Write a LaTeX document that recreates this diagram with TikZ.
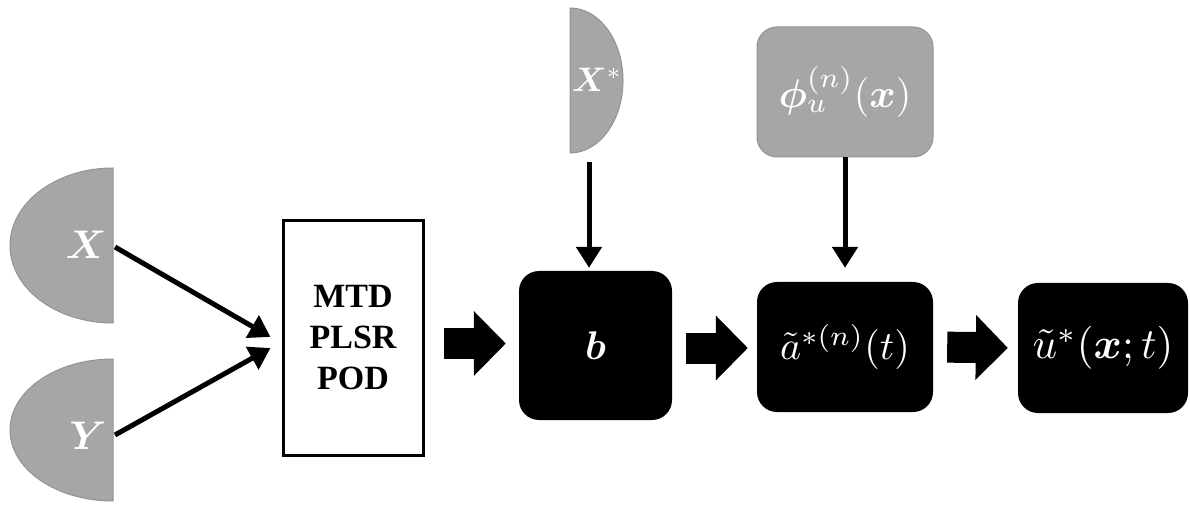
\documentclass[tikz,border=0pt]{standalone}
\usepackage{fontspec}
\setmainfont{Liberation Serif}
\usepackage{amsmath,bm,graphicx}
\usetikzlibrary{arrows.meta,calc}
\definecolor{halfgray}{HTML}{A6A6A6}
\definecolor{edgegray}{HTML}{939393}
\newcommand\scalemath[2]{\scalebox{#1}{\fontsize{10}{12}\selectfont$#2$}}
\tikzset{
  half/.style={fill=halfgray,draw=edgegray,line width=1pt},
  blackbox/.style={fill=black,text=white,rounded corners=20pt,inner sep=0pt},
  graybox/.style={fill=halfgray,draw=edgegray,line width=1pt,text=white,rounded corners=20pt,inner sep=0pt},
  halflabel/.style={text=white,inner sep=0pt},
  fatarrow/.style={line width=31pt,-{Triangle[length=32pt,width=63pt]}},
  thinarrow/.style={line width=5pt,-{Triangle[length=21pt,width=25pt]}},
}
\begin{document}
\begin{tikzpicture}[x=1pt,y=1pt]
\useasboundingbox (0,0) rectangle (1190,-510);
% half discs
\draw[half] (113,-168) arc[start angle=90,end angle=270,x radius=103,y radius=77.5] -- cycle;
\draw[half] (113,-359) arc[start angle=90,end angle=270,x radius=103,y radius=71] -- cycle;
\draw[half] (570,-8) arc[start angle=90,end angle=-90,x radius=53,y radius=72.5] -- cycle;
\node[halflabel] (X) at (86,-245) {\scalemath{4}{\bm{X}}};
\node[halflabel] (Y) at (88,-436) {\scalemath{4}{\bm{Y}}};
\node[halflabel] (Xs) at (597,-80) {\scalemath{3.4}{\bm{X}^{*}}};
\coordinate (Xout) at (115,-247);
\coordinate (Yout) at (115,-435);
\coordinate (Xsout) at (589,-162);
% boxes
\node[draw=black,line width=3pt,fill=white,minimum width=140pt,minimum height=234pt,inner sep=0pt,
      align=center,font=\bfseries\fontsize{34}{41}\selectfont] (mtd) at (353,-338) {MTD\\PLSR\\POD};
\node[blackbox,minimum width=153pt,minimum height=149pt] (b) at (595.5,-345.5) {\scalemath{4}{\bm{b}}};
\node[graybox,minimum width=176pt,minimum height=130pt] (phi) at (845,-92) {\scalemath{4.0}{\bm{\phi}_u^{(n)}(\bm{x})}};
\node[blackbox,minimum width=176pt,minimum height=130pt] (a) at (845,-347) {\scalemath{4.0}{\tilde{a}^{*(n)}(t)}};
\node[blackbox,minimum width=170pt,minimum height=130pt] (u) at (1103,-348) {\scalemath{4.3}{\tilde{u}^{*}(\bm{x};t)}};
% connectors
\draw[thinarrow] (Xout) -- ($(mtd.west)+(-11,1)$);
\draw[thinarrow] (Yout) -- ($(mtd.west)+(-11,-10)$);
\draw[thinarrow,shorten >=3pt] (Xsout) -- (Xsout |- b.north);
\draw[thinarrow,shorten >=14pt] (phi.south) -- (a.north);
\draw[fatarrow,shorten <=19pt,shorten >=13pt] ($(mtd.east)+(0,-5.5)$) -- ($(b.west)+(0,2)$);
\draw[fatarrow,shorten <=14pt,shorten >=9pt] ($(b.east)+(0,-2.5)$) -- ($(a.west)+(0,-1)$);
\draw[fatarrow,shorten <=14pt,shorten >=10pt] (a.east) -- (u.west);
\end{tikzpicture}
\end{document}
